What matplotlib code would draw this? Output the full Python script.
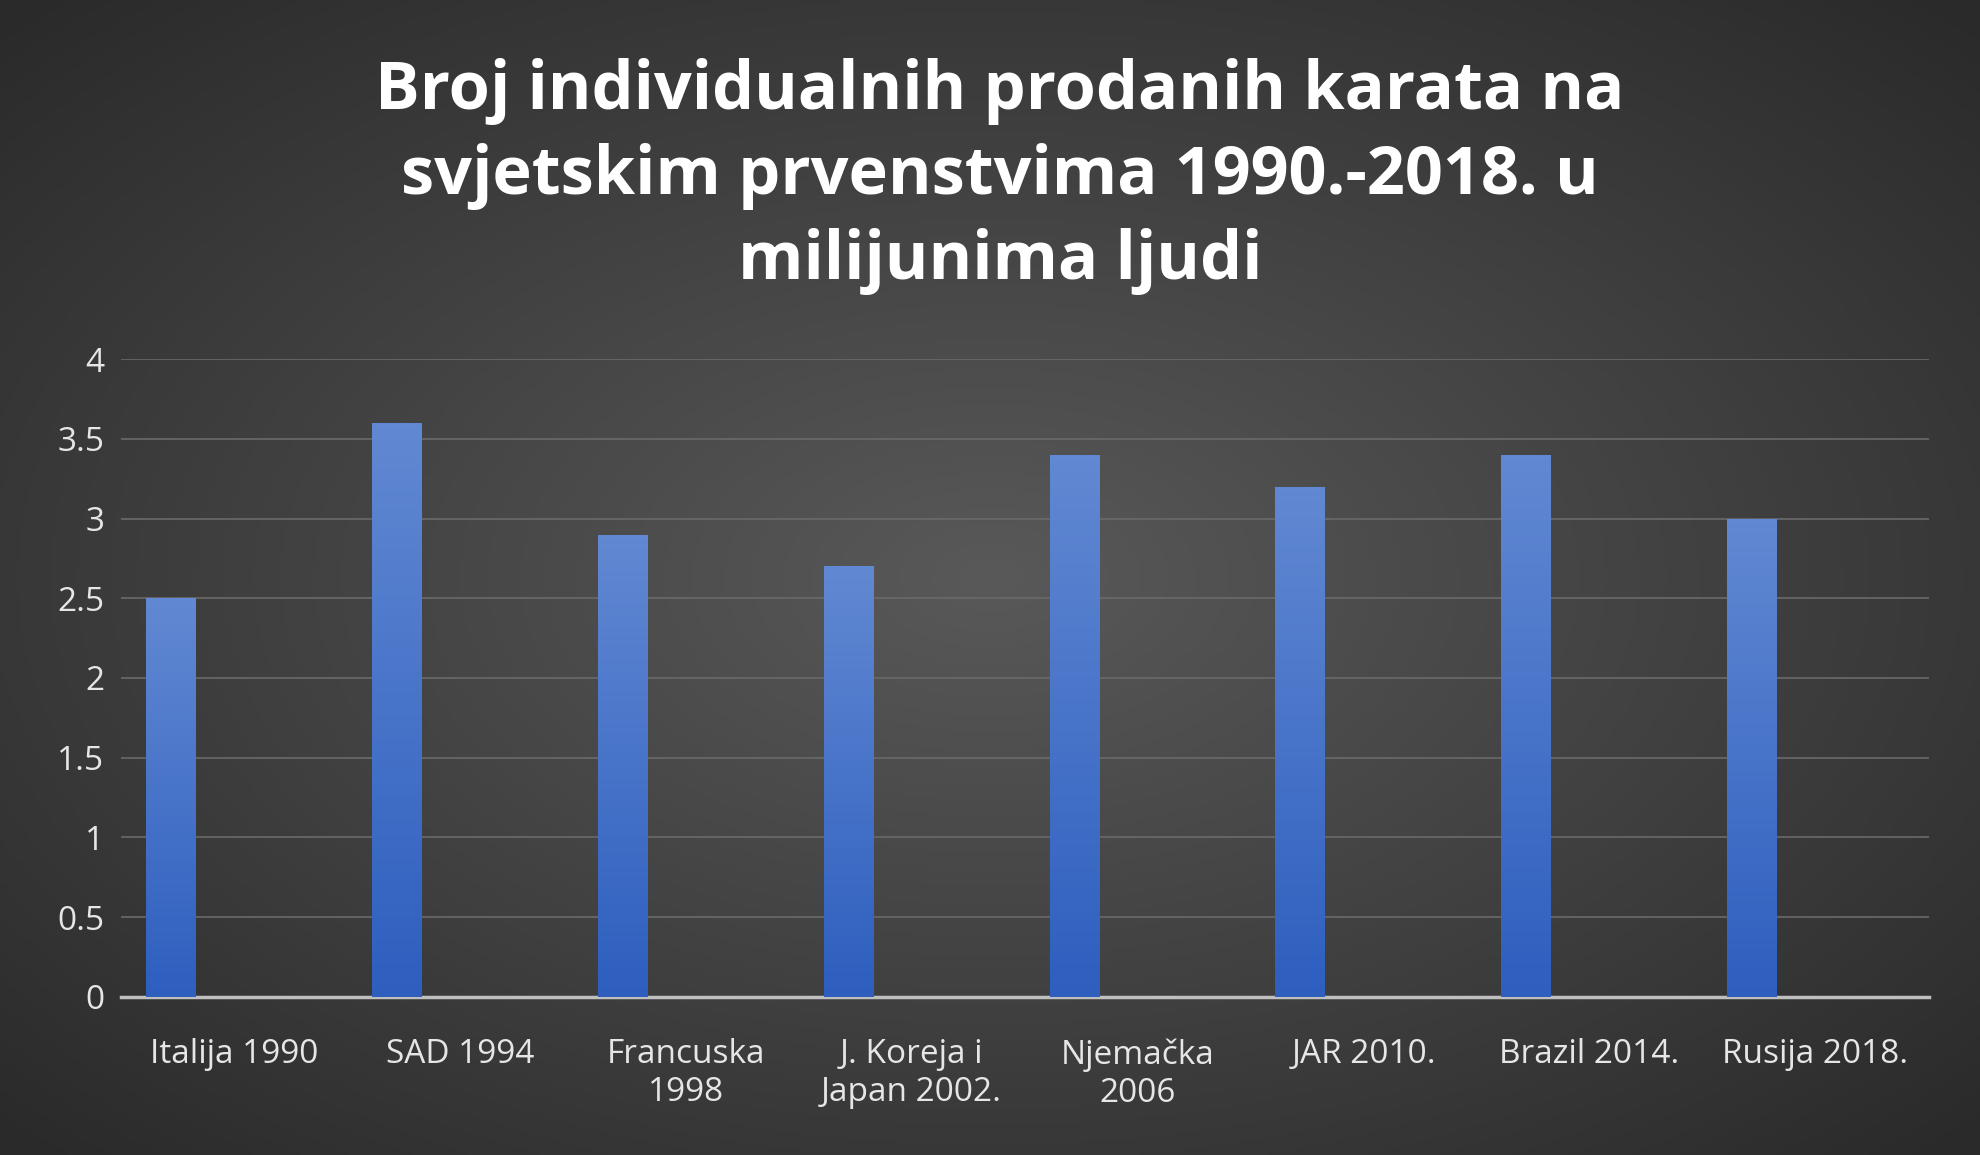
import numpy as np
import matplotlib.pyplot as plt
from matplotlib.colors import LinearSegmentedColormap

categories = ["Italija 1990", "SAD 1994", "Francuska\n1998", "J. Koreja i\nJapan 2002.",
              "Njemačka\n2006", "JAR 2010.", "Brazil 2014.", "Rusija 2018."]
values = [2.5, 3.6, 2.9, 2.7, 3.4, 3.2, 3.4, 3.0]
yticks = [0, 0.5, 1, 1.5, 2, 2.5, 3, 3.5, 4]
title = "Broj individualnih prodanih karata na\nsvjetskim prvenstvima 1990.-2018. u\nmilijunima ljudi"

plt.rcParams["font.family"] = ["Open Sans", "DejaVu Sans"]
fig = plt.figure(figsize=(19.8, 11.55), dpi=100)

# radial gradient background
bg = fig.add_axes([0, 0, 1, 1], zorder=-10)
yy, xx = np.mgrid[-1:1:300j, -1:1:500j]
rr = np.sqrt(xx**2 + yy**2)
bg.imshow(rr, cmap=LinearSegmentedColormap.from_list("bg", ["#595959", "#2a2a2a"]),
          extent=[0, 1, 0, 1], aspect="auto", vmin=0, vmax=1.4)
bg.axis("off")

ax = fig.add_axes([0.061, 0.137, 0.913, 0.552])
ax.patch.set_alpha(0)
x = np.arange(len(categories))
bar_w = 0.22
bar_left = x - 0.39
bars = ax.bar(bar_left, values, width=bar_w, align="edge", color="#3f6cc8", zorder=3)
grad = LinearSegmentedColormap.from_list("bar", ["#2e5fbf", "#6188d2"])
for b in bars:
    im = ax.imshow(np.linspace(0, 1, 100).reshape(-1, 1), cmap=grad, origin="lower",
                   extent=[b.get_x(), b.get_x() + b.get_width(), 0, b.get_height()],
                   aspect="auto", zorder=4)
    im.set_clip_path(b)

ax.set_xlim(-0.5, len(categories) - 0.5)
ax.set_ylim(0, 4)
ax.set_yticks(yticks)
ax.set_yticklabels([f"{t:g}" for t in yticks])
ax.set_xticks(x)
ax.set_xticklabels(categories)
ax.tick_params(colors="#e6e6e6", labelsize=24, length=0, pad=12)
ax.tick_params(axis="x", pad=30)
ax.grid(axis="y", color="#6a6a6a", linewidth=1.2, zorder=0)
for s in ["top", "right", "left"]:
    ax.spines[s].set_visible(False)
ax.spines["bottom"].set_color("#bfbfbf")
ax.spines["bottom"].set_linewidth(2.5)

fig.text(0.505, 0.847, title, ha="center", va="center", color="white",
         fontsize=48, fontweight="bold", linespacing=1.35)

fig.savefig("out.png", dpi=100)
